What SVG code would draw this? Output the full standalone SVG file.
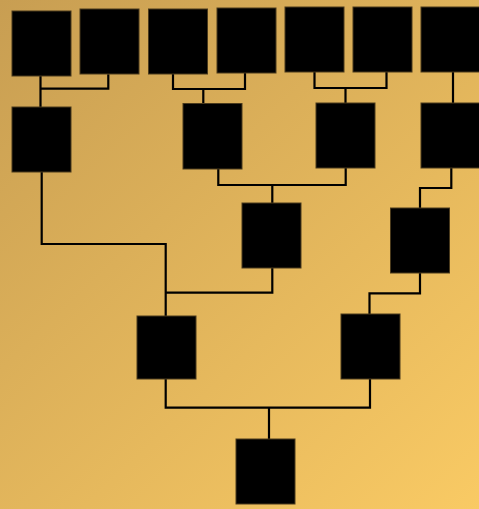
<svg xmlns="http://www.w3.org/2000/svg" width="479" height="509" viewBox="0 0 479 509">
<defs>
<linearGradient id="bg" x1="0" y1="0" x2="479" y2="509" gradientUnits="userSpaceOnUse">
<stop offset="0" stop-color="#c89e52"/>
<stop offset="1" stop-color="#f9ca64"/>
</linearGradient>
</defs>
<style>
.n{fill:#000;stroke:#4a3a1c;stroke-width:1}
.c{fill:none;stroke:#000;stroke-width:2.2;stroke-linejoin:miter}
</style>
<rect width="479" height="509" fill="url(#bg)"/>
<g id="connectors">
<path class="c" d="M40.5 76V88.7H108.3V74.3M40.5 88.7V107"/>
<path class="c" d="M173 74V89H245V73M203.3 89V103"/>
<path class="c" d="M314.5 72V88H386.5V72M345.5 88V103"/>
<path class="c" d="M453 72V103"/>
<path class="c" d="M41.7 172V244H165.7V316M165.7 292.7H272.3V268"/>
<path class="c" d="M218.3 169V185H345.7V168M272.3 185V203"/>
<path class="c" d="M451.3 168V188H420V208"/>
<path class="c" d="M420 273V293.3H369.5V314"/>
<path class="c" d="M165.7 379V407.7H370V379M269 407.7V439"/>
</g>
<g id="nA"><rect class="n" x="12" y="11" width="59" height="65"/></g>
<g id="nB"><rect class="n" x="80" y="9" width="59" height="65"/></g>
<g id="nC"><rect class="n" x="148.5" y="9" width="59" height="65"/></g>
<g id="nD"><rect class="n" x="217" y="8" width="59" height="65"/></g>
<g id="nE"><rect class="n" x="285" y="7" width="59" height="65"/></g>
<g id="nF"><rect class="n" x="353" y="7" width="59" height="65"/></g>
<g id="nG"><rect class="n" x="421" y="7" width="59" height="65"/></g>
<g id="nH"><rect class="n" x="12" y="107" width="59" height="65"/></g>
<g id="nI"><rect class="n" x="183" y="103.5" width="59" height="65.5"/></g>
<g id="nJ"><rect class="n" x="316" y="103" width="59" height="65"/></g>
<g id="nK"><rect class="n" x="421" y="103" width="59" height="65"/></g>
<g id="nM"><rect class="n" x="242" y="203" width="59" height="65"/></g>
<g id="nN"><rect class="n" x="390.5" y="208" width="59" height="65"/></g>
<g id="nL"><rect class="n" x="137" y="316" width="59" height="63"/></g>
<g id="nO"><rect class="n" x="341" y="314" width="59" height="65"/></g>
<g id="nP"><rect class="n" x="236" y="439" width="59" height="65"/></g>
</svg>
